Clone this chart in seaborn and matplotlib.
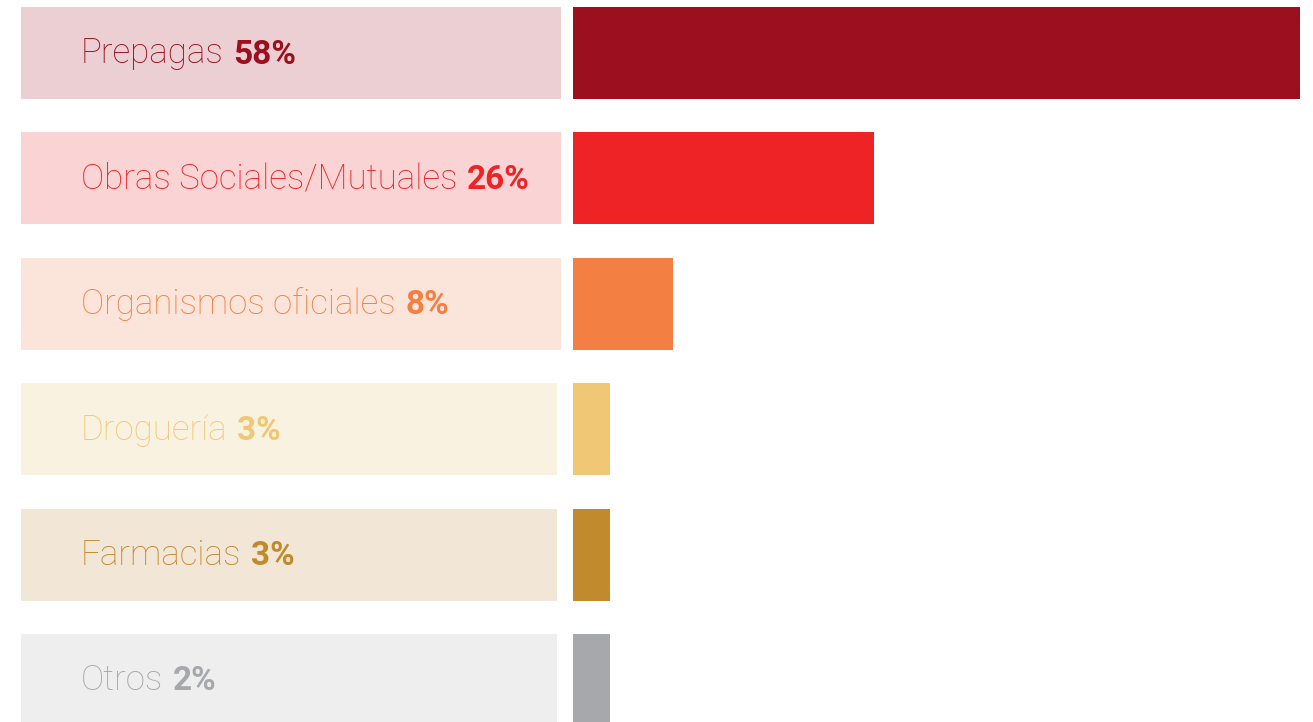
import matplotlib
matplotlib.use("Agg")
import matplotlib.pyplot as plt
import seaborn as sns
import numpy as np

# ---- data ----
categories = ["Prepagas", "Obras Sociales/Mutuales", "Organismos oficiales",
              "Droguería", "Farmacias", "Otros"]
pct_labels = ["58%", "26%", "8%", "3%", "3%", "2%"]
bar_lengths = [58, 24, 8, 3, 3, 3]   # bar lengths as drawn in the picture

bar_colors = ["#9C0F1E", "#EE2325", "#F47F43", "#F0C875", "#C18A2D", "#A7A8AC"]
box_colors = ["#EBCFD3", "#FAD3D4", "#FBE5DB", "#FAF2E1", "#F2E7D6", "#EDEEED"]
text_colors = ["#9C0F1E", "#EE2325", "#F47F43", "#F0C875", "#C18A2D", "#A7A8AC"]

# ---- layout (pixels) ----
W, H, DPI = 1313, 722, 100
X0 = 572.5            # pixel where bars start
PX_PER_UNIT = 12.55   # pixels per percentage unit
ROW0 = 53.0           # centre of first row (px from top)
PITCH = 125.4
BAR_H_PX = 92.0
BOX_LEFT_PX = 21
BOX_RIGHT_PX = [561, 561, 561, 557, 557, 557]
TEXT_X_PX = 81

def px2x(px):
    return (px - X0) / PX_PER_UNIT

sns.set_theme(style="white")
plt.rcParams["font.family"] = ["Roboto", "DejaVu Sans"]

fig = plt.figure(figsize=(W / DPI, H / DPI), dpi=DPI)
ax = fig.add_axes([0, 0, 1, 1])

bar_h = BAR_H_PX / PITCH

# label boxes
for i in range(len(categories)):
    left = px2x(BOX_LEFT_PX)
    right = px2x(BOX_RIGHT_PX[i])
    ax.barh(i, right - left, left=left, height=bar_h, color=box_colors[i],
            linewidth=0, zorder=1)

# main bars
sns.barplot(x=bar_lengths, y=list(range(len(categories))), hue=categories,
            palette=bar_colors, orient="h", width=bar_h, legend=False,
            linewidth=0, saturation=1, ax=ax, native_scale=True, zorder=2)

ax.set_xlim(px2x(0), px2x(W))
ax.set_ylim((H - ROW0) / PITCH, -ROW0 / PITCH)
ax.axis("off")

FS_LIGHT = 25.1
FS_BOLD = 24.0
BASE_OFF = 10.5  # baseline offset below row centre, px
fig.canvas.draw()
renderer = fig.canvas.get_renderer()
for i, (cat, pct) in enumerate(zip(categories, pct_labels)):
    yb = i + BASE_OFF / PITCH
    t = ax.text(px2x(TEXT_X_PX), yb, cat, fontsize=FS_LIGHT, fontweight="light",
                color=text_colors[i], va="baseline", ha="left", zorder=3)
    bb = t.get_window_extent(renderer)
    x_end_px = bb.x1
    ax.text(px2x(x_end_px + 9.5), yb, pct, fontsize=FS_BOLD, fontweight="bold",
            color=text_colors[i], va="baseline", ha="left", zorder=3)

fig.savefig("out.png", dpi=DPI)
